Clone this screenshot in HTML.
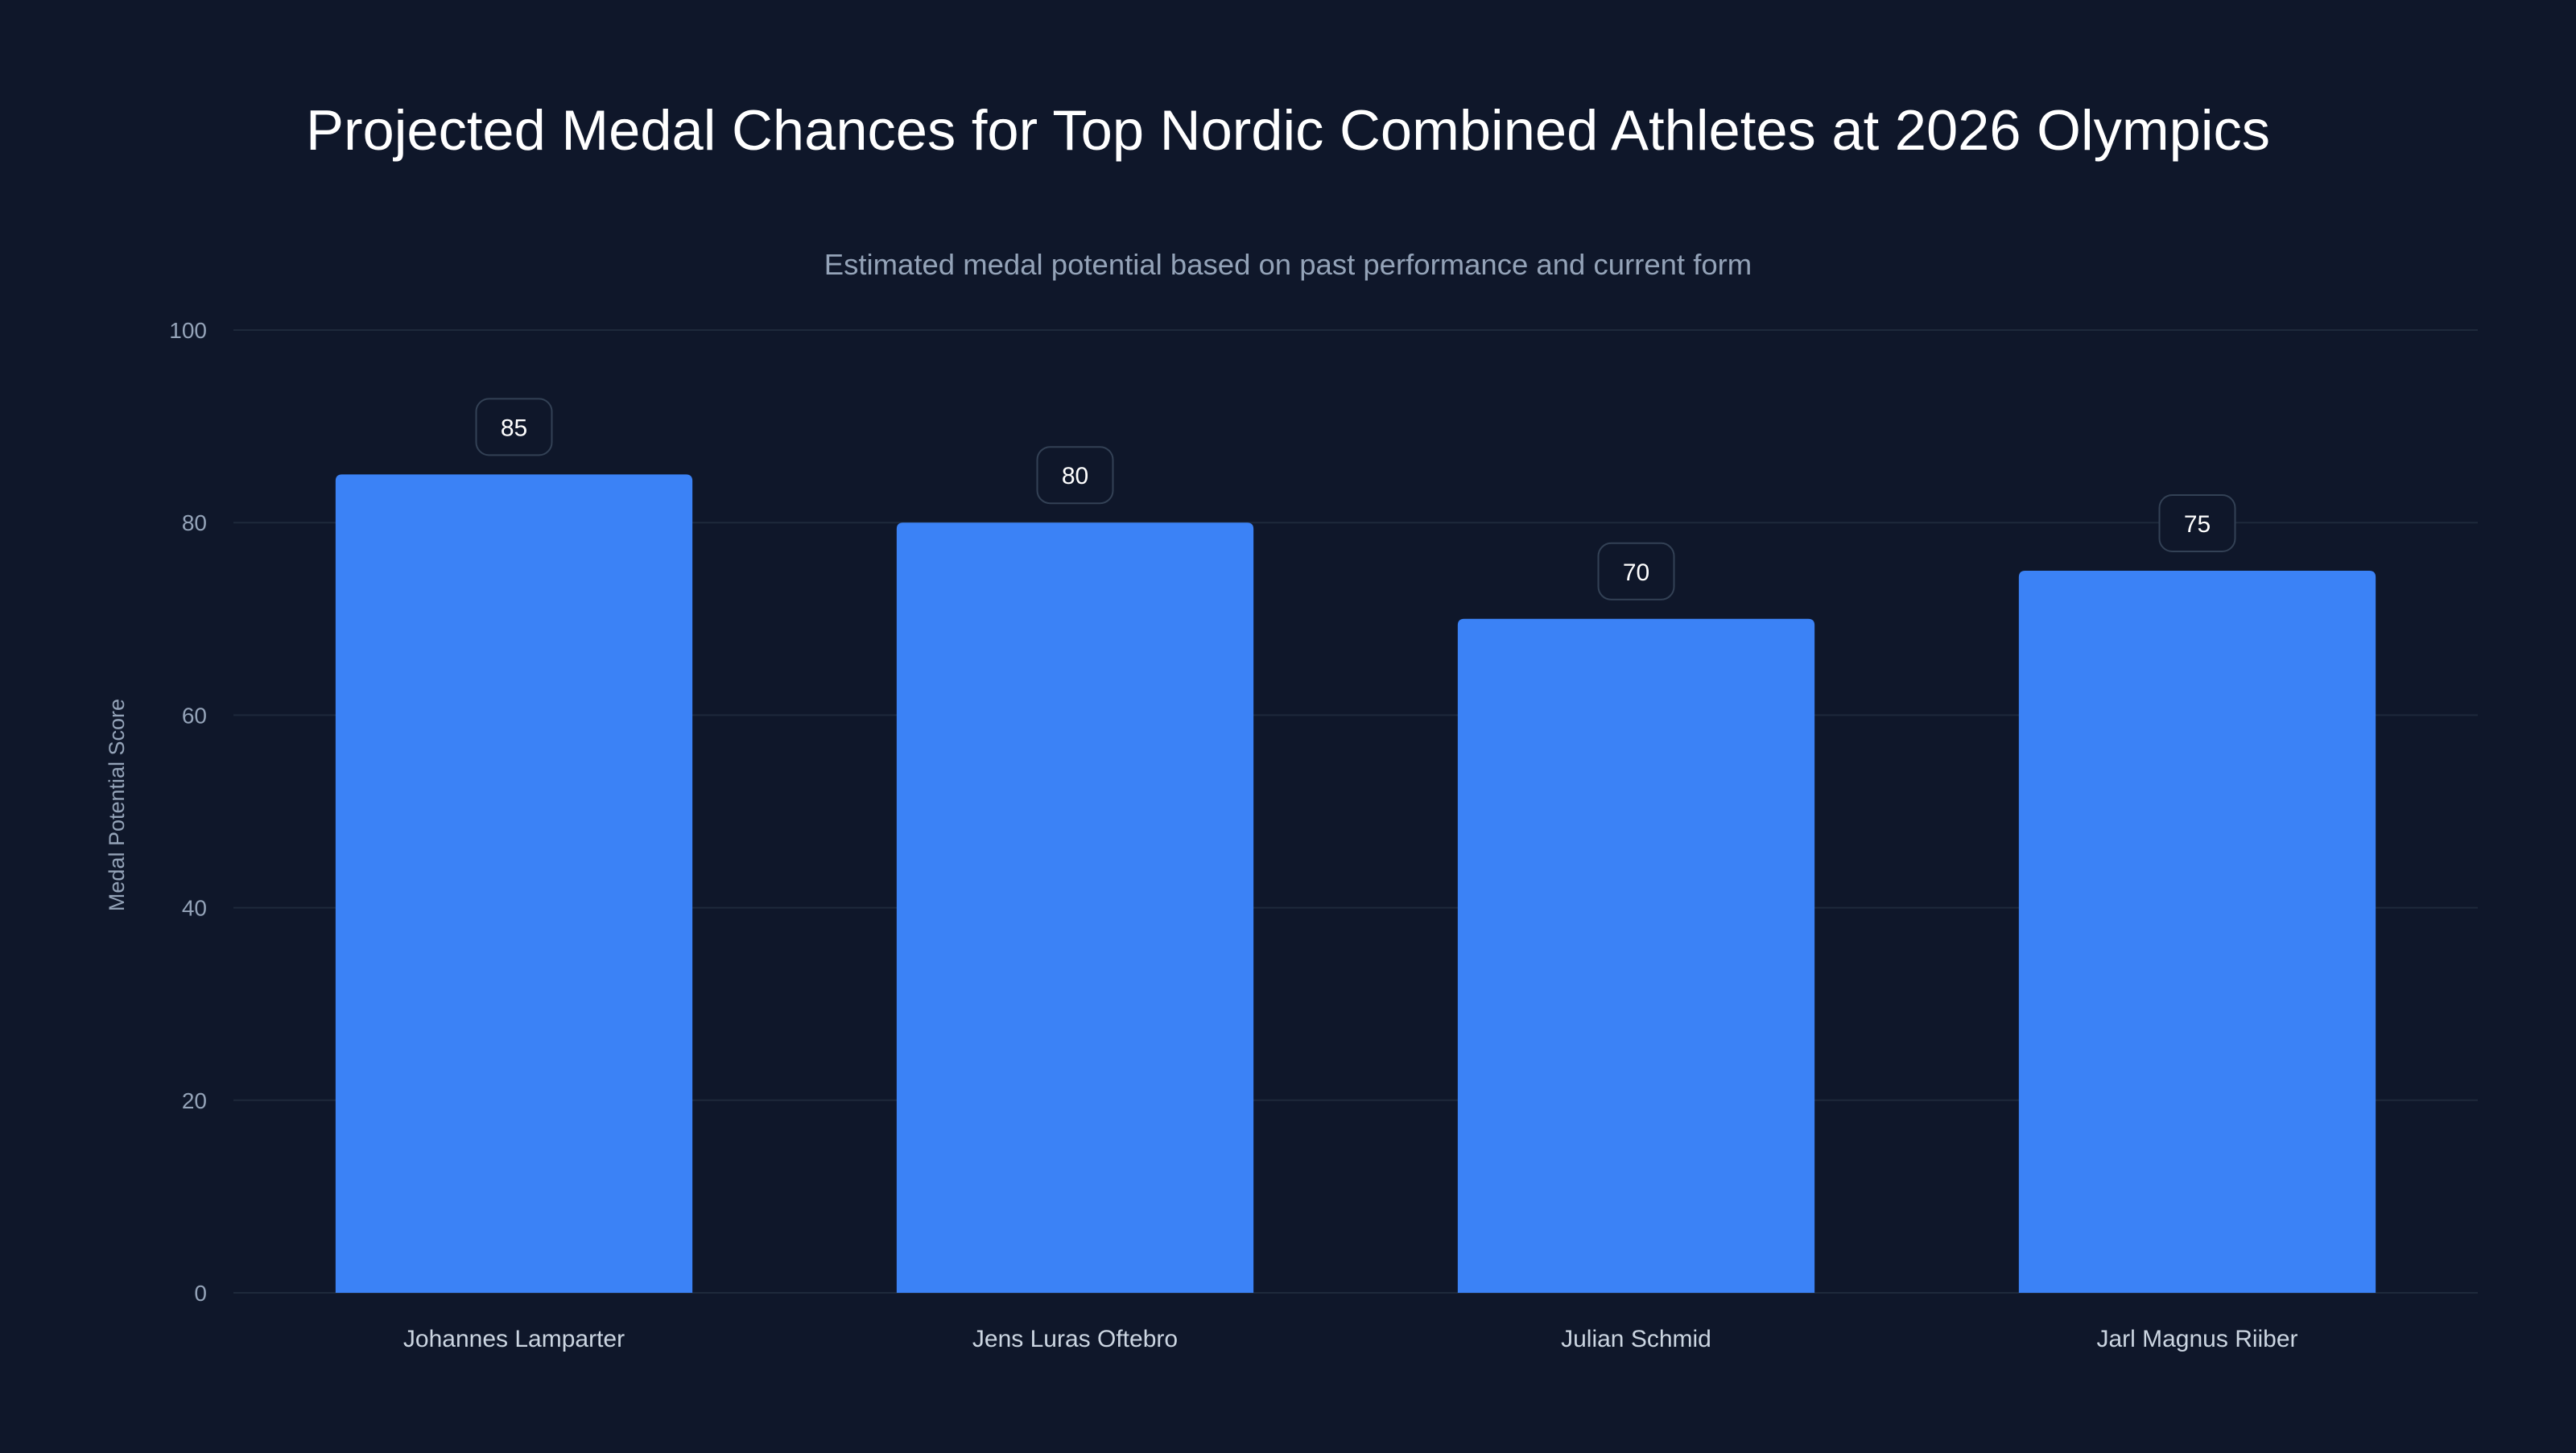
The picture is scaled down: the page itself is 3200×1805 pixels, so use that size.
<!DOCTYPE html>
<html><head><meta charset="utf-8"><style>
html,body{margin:0;padding:0;background:#0f172a;}
body{width:3200px;height:1800px;overflow:hidden;font-family:"Liberation Sans",sans-serif;}
</style></head><body>
<svg id="chart" width="3200" height="1800" xmlns="http://www.w3.org/2000/svg">
<rect width="3200" height="1800" fill="#0f172a"/>
<text x="1600" y="186" text-anchor="middle" fill="#ffffff" font-size="70.5">Projected Medal Chances for Top Nordic Combined Athletes at 2026 Olympics</text>
<text x="1600" y="341" text-anchor="middle" fill="#94a3b8" font-size="36.5">Estimated medal potential based on past performance and current form</text>
<text transform="translate(154,1000) rotate(-90)" text-anchor="middle" fill="#94a3b8" font-size="27">Medal Potential Score</text>
<g id="grid"></g><g id="bars"></g><g id="labels"></g>
</svg>
<script>
const categories = ["Johannes Lamparter","Jens Luras Oftebro","Julian Schmid","Jarl Magnus Riiber"];
const values = [85,80,70,75];
const yTicks = [0,20,40,60,80,100];
const NS="http://www.w3.org/2000/svg";
const L=290,R=3078,T=410,B=1606,yMax=100;
const y=v=>B-(v/yMax)*(B-T);
const band=(R-L)/categories.length;
const x=i=>L+band*(i+0.5);
const bw=band*0.636;
function mk(tag,attrs,parent){const e=document.createElementNS(NS,tag);for(const k in attrs)e.setAttribute(k,attrs[k]);parent.appendChild(e);return e;}
const grid=document.getElementById('grid'),bars=document.getElementById('bars'),labels=document.getElementById('labels');
yTicks.forEach(t=>{
  const l=mk('line',{x1:L,x2:R,y1:y(t),y2:y(t),stroke:'#1e293b','stroke-width':2},grid);
  
  
  const tx=mk('text',{x:257,y:y(t)+10,'text-anchor':'end',fill:'#94a3b8','font-size':28},grid);
  tx.textContent=t;
  
  
});
categories.forEach((c,i)=>{
  const v=values[i],cx=x(i),top=y(v);
  const p=mk('path',{d:`M${cx-bw/2},${B}V${top+8}Q${cx-bw/2},${top} ${cx-bw/2+8},${top}H${cx+bw/2-8}Q${cx+bw/2},${top} ${cx+bw/2},${top+8}V${B}Z`,fill:'#3b82f6'},bars);
  
  
  const r=mk('rect',{x:cx-47,y:top-94,width:94,height:70,rx:16,fill:'#0f172a',stroke:'#334155','stroke-width':2},labels);
  
  
  const vt=mk('text',{x:cx,y:top-48,'text-anchor':'middle',fill:'#ffffff','font-size':30},labels);
  vt.textContent=v;
  
  
  const ct=mk('text',{x:cx,y:1673,'text-anchor':'middle',fill:'#cbd5e1','font-size':30},labels);
  ct.textContent=c;
  
  
});
</script>
</body></html>
